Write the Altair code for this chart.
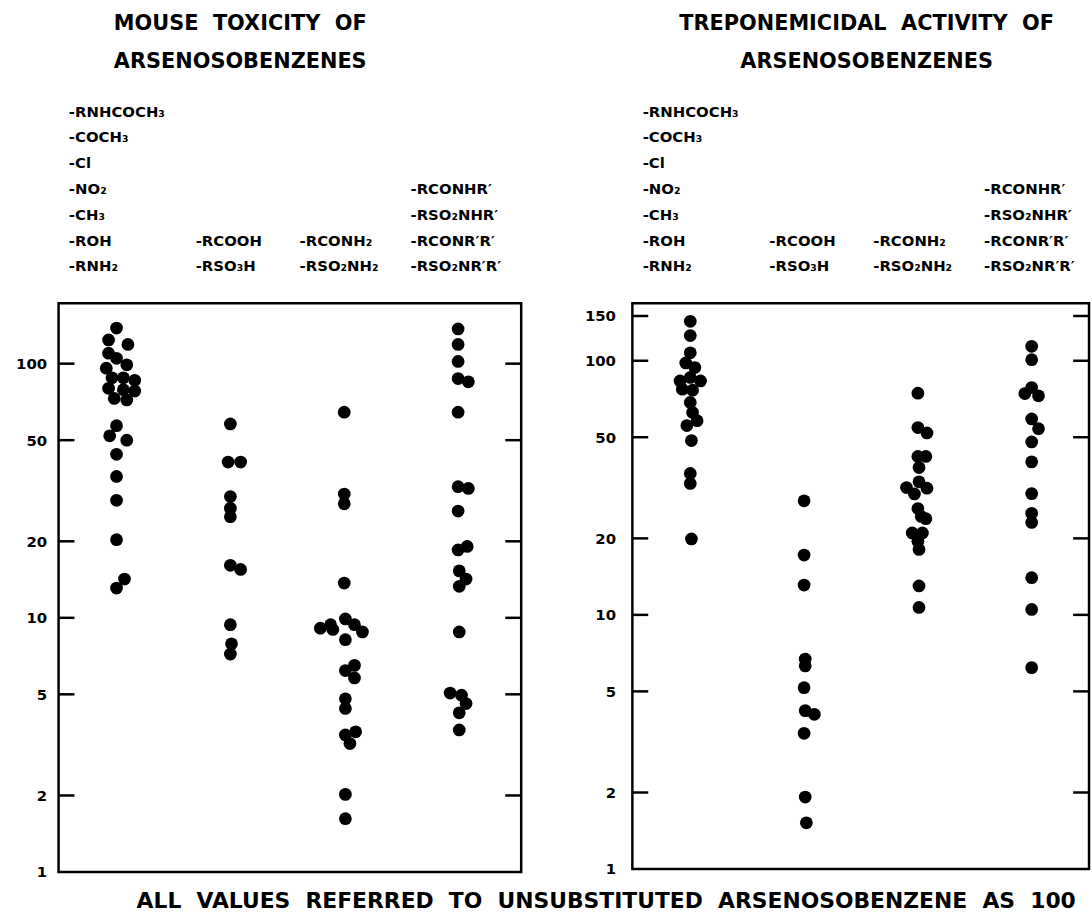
import altair as alt
import pandas as pd

FONT = "DejaVu Sans"

# ---------------- data: mouse toxicity (left panel) ----------------
tox_c1 = [138, 124, 119, 110, 105, 99, 96, 88, 88, 86, 80, 79, 78, 73, 72,
          57, 52, 50, 44, 36, 29, 20.3, 14.2, 13.1]
tox_c1_off = [0, -0.07, 0.10, -0.07, 0, 0.09, -0.09, -0.04, 0.06, 0.16, -0.07, 0.06, 0.16, -0.02, 0.09,
              0, -0.06, 0.09, 0, 0, 0, 0, 0.07, 0]
tox_c2 = [57.9, 41, 41, 30, 27, 25, 16.1, 15.5, 9.4, 7.9, 7.2]
tox_c2_off = [0, -0.02, 0.09, 0, 0, 0, 0, 0.09, 0, 0.01, 0]
tox_c3 = [64.4, 30.7, 28.1, 13.7, 9.1, 9.4, 9.9, 9.4, 8.8, 9.0, 8.2, 6.5, 6.2, 5.8, 4.8, 4.4,
          3.56, 3.46, 3.2, 2.02, 1.62]
tox_c3_off = [0, 0, 0, 0, -0.21, -0.12, 0.01, 0.09, 0.16, -0.10, 0.01, 0.09, 0.01, 0.09, 0.01, 0.01,
              0.10, 0.01, 0.05, 0.01, 0.01]
tox_c4 = [137, 119, 102, 87.4, 84.8, 64.4, 32.8, 32.3, 26.3, 19.1, 18.5, 15.3, 14.2, 13.3,
          8.8, 5.06, 4.96, 4.6, 4.23, 3.62]
tox_c4_off = [0, 0, 0, 0, 0.09, 0, 0, 0.09, 0, 0.08, 0, 0.01, 0.07, 0.01,
              0.01, -0.07, 0.03, 0.07, 0.01, 0.01]

# ---------------- data: treponemicidal activity (right panel) ----------------
trep_c1 = [143, 125.6, 107.5, 98, 94, 86, 83.3, 83.3, 77.3, 76.6, 68.5, 62.6, 58.1, 55.6,
           48.5, 36, 32.9, 19.9]
trep_c1_off = [0, 0, 0, -0.04, 0.04, 0, -0.09, 0.09, -0.07, 0.02, 0, 0.02, 0.06, -0.03,
               0.01, 0, 0, 0.01]
trep_c2 = [28.1, 17.2, 13.1, 6.7, 6.3, 5.17, 4.2, 4.06, 3.42, 1.92, 1.52]
trep_c2_off = [0, 0, 0, 0.01, 0.01, 0, 0.01, 0.09, 0, 0.01, 0.02]
trep_c3 = [74.5, 54.6, 52, 42, 42, 38, 33.4, 31.7, 31.5, 29.9, 26.2, 24.4, 23.9, 21, 21,
           19.5, 18.1, 13, 10.7]
trep_c3_off = [0, 0, 0.08, 0, 0.07, 0.01, 0.01, -0.10, 0.08, -0.03, 0, 0.03, 0.07, -0.05, 0.04,
               0, 0.01, 0.01, 0.01]
trep_c4 = [114, 101, 78.4, 74.3, 72.8, 59, 54, 47.9, 40, 30, 25.1, 23.1, 14, 10.5, 6.2]
trep_c4_off = [0, 0, 0, -0.06, 0.06, 0, 0.06, 0, 0, 0, 0, 0, 0, 0, 0]

# ---------------- text ----------------
group_labels = [
    ["-RNHCOCH₃", "-COCH₃", "-Cl", "-NO₂", "-CH₃", "-ROH", "-RNH₂"],
    ["-RCOOH", "-RSO₃H"],
    ["-RCONH₂", "-RSO₂NH₂"],
    ["-RCONHR′", "-RSO₂NHR′", "-RCONR′R′", "-RSO₂NR′R′"],
]
left_title = ["MOUSE  TOXICITY  OF", "ARSENOSOBENZENES"]
right_title = ["TREPONEMICIDAL  ACTIVITY  OF", "ARSENOSOBENZENES"]
caption = "ALL  VALUES  REFERRED  TO  UNSUBSTITUTED  ARSENOSOBENZENE  AS  100"

left_axis_labels = [1, 2, 5, 10, 20, 50, 100]
left_ticks = [2, 5, 10, 20, 50, 100]
right_axis_labels = [1, 2, 5, 10, 20, 50, 100, 150]
right_ticks = [2, 5, 10, 20, 50, 100, 150]

LINE_H = 26
XMIN = -0.509


def nb(s):
    return s.replace("  ", "\u00a0\u00a0")


def panel(cols, offs, width, height, ymax, xmax, title_lines, title_x,
          label_dx, axis_extent, label_pad, ticks, axis_vals):
    rows = []
    for i, (vs, os) in enumerate(zip(cols, offs)):
        for v, o in zip(vs, os):
            rows.append({"x": i + o, "v": v})
    df = pd.DataFrame(rows)
    xs = alt.Scale(domain=[XMIN, xmax], nice=False, zero=False)
    ys = alt.Scale(type="log", domain=[1, ymax], nice=False)
    yaxis = alt.Axis(values=axis_vals, ticks=False, domain=False, grid=False,
                     labelFont=FONT, labelFontSize=15, labelFontWeight="bold",
                     labelColor="black", labelPadding=label_pad,
                     minExtent=axis_extent, maxExtent=axis_extent,
                     labelOverlap=False, labelBound=False, labelFlush=False,
                     format="d", title=None)
    pts = alt.Chart(df).mark_circle(size=165, color="black", opacity=1).encode(
        x=alt.X("x:Q", scale=xs, axis=None),
        y=alt.Y("v:Q", scale=ys, axis=yaxis),
    )
    # inward tick marks on both sides of the frame (length ~16 px)
    tick_len = 16 * (xmax - XMIN) / width
    trows = []
    for t in ticks:
        trows.append({"v": t, "x0": XMIN, "x1": XMIN + tick_len})
        trows.append({"v": t, "x0": xmax - tick_len, "x1": xmax})
    tk = alt.Chart(pd.DataFrame(trows)).mark_rule(color="black", strokeWidth=2.5).encode(
        y=alt.Y("v:Q", scale=ys, axis=yaxis),
        x=alt.X("x0:Q", scale=xs, axis=None),
        x2="x1:Q",
    )
    layers = [pts, tk]
    for i, lines in enumerate(group_labels):
        t = alt.Chart(pd.DataFrame({"col": [i], "label": ["\n".join(lines)]})).mark_text(
            align="left", baseline="bottom", lineBreak="\n", lineHeight=LINE_H,
            font=FONT, fontSize=15, fontWeight="bold", color="black", dx=label_dx[i],
        ).encode(
            x=alt.X("col:Q", scale=xs, axis=None),
            y=alt.value(-29 - (len(lines) - 1) * LINE_H),
            text="label:N",
        )
        layers.append(t)
    ttl = alt.Chart(pd.DataFrame({"t": ["\n".join(nb(s) for s in title_lines)]})).mark_text(
        align="center", baseline="top", lineBreak="\n", lineHeight=38,
        font=FONT, fontSize=21, fontWeight="bold", color="black",
    ).encode(x=alt.value(title_x), y=alt.value(-292), text="t:N")
    layers.append(ttl)
    return alt.layer(*layers).properties(width=width, height=height)


left = panel([tox_c1, tox_c2, tox_c3, tox_c4],
             [tox_c1_off, tox_c2_off, tox_c3_off, tox_c4_off],
             466, 573, 173, 3.554, left_title, 183,
             [-48, -35, -45, -48], 52, 12, left_ticks, left_axis_labels)
right = panel([trep_c1, trep_c2, trep_c3, trep_c4],
              [trep_c1_off, trep_c2_off, trep_c3_off, trep_c4_off],
              460, 570, 168.5, 3.504, right_title, 236,
              [-48, -35, -45, -48], 43, 17, right_ticks, right_axis_labels)

chart = alt.hconcat(left, right, spacing=59).properties(
    padding={"left": 5, "top": 8, "right": 0, "bottom": 5},
    background="white",
    title=alt.TitleParams(nb(caption), orient="bottom", anchor="middle", font=FONT,
                          fontSize=22, fontWeight="bold", color="black", dx=58, offset=10),
).configure_view(stroke="black", strokeWidth=2.5, fill="white")

chart.save("out.html", embed_options={"renderer": "svg", "actions": False})
